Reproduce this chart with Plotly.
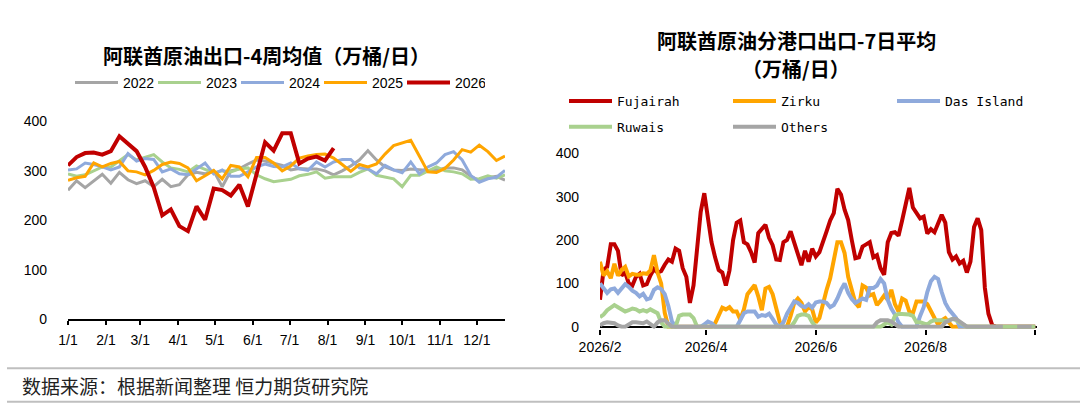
import pandas as pd
import plotly.graph_objects as go

# ---------------- Left chart: UAE crude exports, 4-week average (10k bbl/d) ----------------
week_dates = pd.date_range("2026-01-01", periods=52, freq="7D")

exp_2022 = [261, 280, 266, 279, 293, 275, 297, 282, 274, 280, 268, 283, 268, 272, 292, 297, 294, 300, 268, 300,
            304, 314, 322, 320, 316, 311, 302, 305, 304, 304, 300, 292, 300, 310, 322, 341, 322, 308, 302, 301,
            304, 302, 301, 301, 306, 306, 302, 289, 281, 286, 289, 281]
exp_2023 = [294, 289, 292, 300, 308, 308, 320, 333, 322, 328, 333, 318, 306, 303, 298, 310, 303, 296, 300, 298,
            304, 306, 292, 284, 278, 281, 283, 290, 293, 298, 285, 288, 288, 288, 297, 304, 291, 288, 284, 268,
            291, 291, 300, 308, 300, 298, 294, 283, 284, 290, 285, 292]
exp_2024 = [302, 304, 316, 313, 308, 302, 308, 335, 320, 325, 323, 298, 304, 294, 292, 304, 316, 294, 302, 289,
            289, 298, 308, 314, 309, 308, 316, 304, 301, 318, 308, 318, 323, 323, 306, 304, 294, 311, 302, 296,
            318, 294, 308, 316, 333, 339, 322, 291, 277, 284, 287, 301]
exp_2025 = [281, 286, 289, 316, 308, 315, 319, 300, 298, 292, 301, 313, 318, 315, 306, 280, 290, 301, 284, 311,
            308, 288, 327, 327, 316, 300, 310, 326, 330, 333, 334, 326, 313, 299, 313, 308, 314, 334, 351, 357,
            362, 330, 298, 297, 305, 322, 343, 338, 352, 339, 321, 330]
exp_2026 = [311, 328, 336, 337, 333, 340, 370, 356, 340, 308, 267, 210, 222, 188, 178, 228, 201, 264, 261, 250,
            272, 228, 293, 358, 341, 376, 376, 315, 325, 329, 321, 346]

year_names = ["2022", "2023", "2024", "2025", "2026"]
year_colors = ["#a5a5a5", "#a9d18e", "#8faadc", "#ffa500", "#c00000"]
year_widths = [3, 3, 3, 3, 4]

left_tick_dates = pd.date_range("2026-01-01", periods=12, freq="MS")
left_tick_labels = ["1/1", "2/1", "3/1", "4/1", "5/1", "6/1", "7/1", "8/1", "9/1", "10/1", "11/1", "12/1"]

# ---------------- Right chart: exports by port, 7-day average (10k bbl/d) ----------------
port_dates = pd.date_range("2026-02-01", periods=122, freq="2D")

fujairah = [62, 131, 138, 190, 190, 175, 118, 125, 100, 95, 115, 122, 95, 98, 118, 133, 125, 128, 143, 155,
            150, 180, 175, 135, 115, 55, 95, 180, 265, 308, 245, 195, 160, 131, 125, 95, 130, 200, 240, 245,
            195, 190, 172, 148, 216, 225, 235, 205, 188, 155, 154, 195, 200, 220, 196, 170, 142, 175, 150, 180,
            162, 172, 200, 220, 245, 262, 318, 305, 270, 246, 200, 158, 160, 185, 190, 195, 160, 165, 135, 120,
            195, 216, 218, 210, 245, 280, 320, 275, 262, 250, 254, 215, 225, 218, 238, 258, 240, 172, 155, 162,
            146, 152, 125, 150, 230, 250, 223, 90, 30, 5, 0, 0, 0, 0, 0, 0, 0, 0, 0, 0,
            0, 0]
zirku = [150, 118, 128, 112, 145, 118, 131, 138, 116, 122, 120, 120, 123, 122, 130, 165, 125, 100, 32, 0,
         0, 0, 0, 0, 0, 0, 0, 0, 0, 0, 0, 0, 8, 28, 44, 40, 45, 35, 35, 17,
         40, 75, 85, 96, 70, 38, 88, 92, 75, 40, 10, 0, 0, 25, 55, 65, 55, 35, 45, 40,
         10, 20, 54, 85, 112, 160, 195, 195, 170, 115, 82, 55, 45, 95, 90, 72, 75, 50, 60, 72,
         62, 85, 52, 35, 65, 60, 35, 31, 58, 58, 58, 52, 38, 20, 5, 15, 20, 10, 0, 0,
         0, 0, 0, 0, 0, 0, 0, 0, 0, 0, 0, 0, 0, 0, 0, 0, 0, 0, 0, 0,
         0, 0]
das_island = [100, 89, 78, 86, 88, 78, 87, 98, 92, 83, 78, 70, 76, 63, 66, 85, 91, 87, 75, 48,
              12, 0, 0, 0, 0, 0, 0, 0, 0, 5, 12, 8, 0, 0, 0, 0, 0, 0, 0, 15,
              31, 35, 35, 35, 23, 27, 25, 30, 18, 5, 0, 10, 30, 45, 58, 55, 48, 45, 52, 44,
              56, 58, 58, 55, 45, 50, 65, 85, 100, 78, 64, 55, 61, 65, 62, 89, 89, 95, 110, 100,
              62, 42, 28, 10, 0, 0, 0, 0, 0, 25, 45, 80, 105, 115, 110, 80, 55, 40, 28, 20,
              0, 0, 0, 0, 0, 0, 0, 0, 0, 0, 0, 0, 0, 0, 0, 0, 0, 0, 0, 0,
              0, 0]
ruwais = [22, 28, 38, 45, 50, 45, 40, 35, 38, 42, 40, 35, 38, 35, 40, 36, 31, 10, 0, 0,
          0, 0, 25, 28, 28, 28, 20, 0, 0, 0, 0, 0, 0, 0, 0, 0, 0, 0, 0, 0,
          0, 0, 0, 0, 0, 0, 0, 0, 0, 0, 0, 0, 0, 0, 10, 25, 28, 28, 25, 10,
          0, 0, 0, 0, 0, 0, 0, 0, 0, 0, 0, 0, 0, 0, 0, 0, 0, 0, 0, 5,
          10, 5, 25, 30, 30, 30, 28, 25, 10, 10, 8, 5, 12, 15, 15, 15, 12, 15, 18, 15,
          10, 5, 0, 0, 0, 0, 0, 0, 0, 0, 0, 0, 0, 0, 0, 0, 0, 0, 0, 0,
          0, 0]
others = [3, 8, 10, 8, 8, 3, 0, 0, 5, 10, 10, 10, 8, 12, 5, 0, 10, 15, 15, 8,
          0, 0, 0, 0, 0, 0, 0, 0, 0, 0, 0, 0, 0, 0, 0, 0, 0, 0, 0, 0,
          0, 0, 0, 0, 0, 0, 0, 0, 0, 0, 0, 0, 0, 0, 0, 0, 0, 0, 0, 0,
          0, 0, 0, 0, 0, 0, 0, 0, 0, 0, 0, 0, 0, 0, 0, 0, 0, 10, 15, 15,
          15, 12, 5, 0, 0, 0, 0, 0, 0, 0, 0, 0, 0, 0, 0, 0, 10, 15, 18, 18,
          12, 5, 0, 0, 0, 0, 0, 0, 0, 0, 0, 0, 0, None, None, None, 0, 0, 0, 0,
          0, None]

port_names = ["Fujairah", "Zirku", "Das Island", "Ruwais", "Others"]
port_colors = ["#c00000", "#ffa500", "#8faadc", "#a9d18e", "#a5a5a5"]
port_legends = ["legend2", "legend2", "legend2", "legend3", "legend3"]

right_tick_dates = ["2026-02-01", "2026-04-01", "2026-06-01", "2026-08-01", "2026-10-01"]
right_tick_labels = ["2026/2", "2026/4", "2026/6", "2026/8", ""]

W, H = 1080, 412

fig = go.Figure()

for name, vals, color, width in zip(year_names, [exp_2022, exp_2023, exp_2024, exp_2025, exp_2026],
                                    year_colors, year_widths):
    fig.add_trace(go.Scatter(x=week_dates[:len(vals)], y=vals, mode="lines", name=name,
                             line=dict(color=color, width=width), xaxis="x", yaxis="y",
                             legend="legend"))

for name, vals, color, lg in zip(port_names, [fujairah, zirku, das_island, ruwais, others],
                                 port_colors, port_legends):
    fig.add_trace(go.Scatter(x=port_dates, y=vals, mode="lines", name=name,
                             line=dict(color=color, width=4), connectgaps=False,
                             xaxis="x2", yaxis="y2", legend=lg))

tickfont = dict(family="Liberation Sans, Arial, sans-serif", size=14, color="#000000")
mono = dict(family="DejaVu Sans Mono, monospace", size=13, color="#000000")

fig.update_layout(
    width=W, height=H,
    margin=dict(l=0, r=0, t=0, b=0, autoexpand=False),
    paper_bgcolor="white", plot_bgcolor="white",
    font=dict(family="Liberation Sans, Arial, sans-serif", size=14, color="#000000"),
    xaxis=dict(domain=[68 / W, 505 / W], anchor="y", type="date", automargin=False,
               range=["2026-01-01", "2026-12-24"],
               tickmode="array", tickvals=left_tick_dates, ticktext=left_tick_labels,
               ticks="outside", ticklen=4, tickwidth=1.5, tickcolor="#000000",
               showline=True, linecolor="#000000", linewidth=1.5,
               showgrid=False, zeroline=False, tickfont=tickfont, ticklabelstandoff=3),
    yaxis=dict(domain=[(H - 319) / H, (H - 121.5) / H], anchor="x", automargin=False,
               range=[0, 400], tickmode="array", tickvals=[0, 100, 200, 300, 400],
               ticks="", showline=False, showgrid=False, zeroline=False,
               tickfont=tickfont, ticklabelstandoff=20),
    xaxis2=dict(domain=[600 / W, 1037 / W], anchor="y2", type="date", automargin=False,
                range=["2026-02-01", "2026-10-02"],
                tickmode="array", tickvals=right_tick_dates, ticktext=right_tick_labels,
                ticks="outside", ticklen=5, tickwidth=1.5, tickcolor="#000000",
                showline=False, showgrid=False, zeroline=False, tickfont=tickfont,
                layer="below traces"),
    yaxis2=dict(domain=[(H - 328.7) / H, (H - 153.3) / H], anchor="x2", automargin=False,
                range=[-4.6, 400], tickmode="array", tickvals=[0, 100, 200, 300, 400],
                ticks="", showline=False, showgrid=False,
                zeroline=True, zerolinecolor="#000000", zerolinewidth=1.5,
                tickfont=tickfont, ticklabelstandoff=20),
    legend=dict(orientation="h", x=70 / W, xanchor="left", y=(H - 83) / H, yanchor="middle",
                itemwidth=43, entrywidth=25, bgcolor="rgba(0,0,0,0)", font=tickfont,
                traceorder="normal"),
    legend2=dict(orientation="h", x=564 / W, xanchor="left", y=(H - 101) / H, yanchor="middle",
                 itemwidth=43, entrywidth=106, bgcolor="rgba(0,0,0,0)", font=mono,
                 traceorder="normal"),
    legend3=dict(orientation="h", x=564 / W, xanchor="left", y=(H - 126.7) / H, yanchor="middle",
                 itemwidth=43, entrywidth=106, bgcolor="rgba(0,0,0,0)", font=mono,
                 traceorder="normal"),
    showlegend=True,
)

cjk = "Noto Sans CJK SC, sans-serif"
fig.add_annotation(text="<b>阿联酋原油出口-4周均值（万桶/日）</b>", xref="paper", yref="paper",
                   x=266 / W, y=(H - 55.7) / H, xanchor="center", yanchor="middle", showarrow=False,
                   font=dict(family=cjk, size=20, color="#000000"))
fig.add_annotation(text="<b>阿联酋原油分港口出口-7日平均</b>", xref="paper", yref="paper",
                   x=796 / W, y=(H - 40.7) / H, xanchor="center", yanchor="middle", showarrow=False,
                   font=dict(family=cjk, size=20, color="#000000"))
fig.add_annotation(text="<b>（万桶/日）</b>", xref="paper", yref="paper",
                   x=796 / W, y=(H - 68.3) / H, xanchor="center", yanchor="middle", showarrow=False,
                   font=dict(family=cjk, size=20, color="#000000"))
fig.add_annotation(text="数据来源：根据新闻整理 恒力期货研究院", xref="paper", yref="paper",
                   x=20 / W, y=(H - 385) / H, xanchor="left", yanchor="middle", showarrow=False,
                   font=dict(family=cjk, size=19, color="#222222"))

for yy in [368.3, 401.7]:
    fig.add_shape(type="line", xref="paper", yref="paper", x0=7 / W, x1=1.0,
                  y0=(H - yy) / H, y1=(H - yy) / H, line=dict(color="#bfbfbf", width=2))

fig.write_html("out.html", config={"displayModeBar": False},
               post_script="document.body.style.margin='0px';")
